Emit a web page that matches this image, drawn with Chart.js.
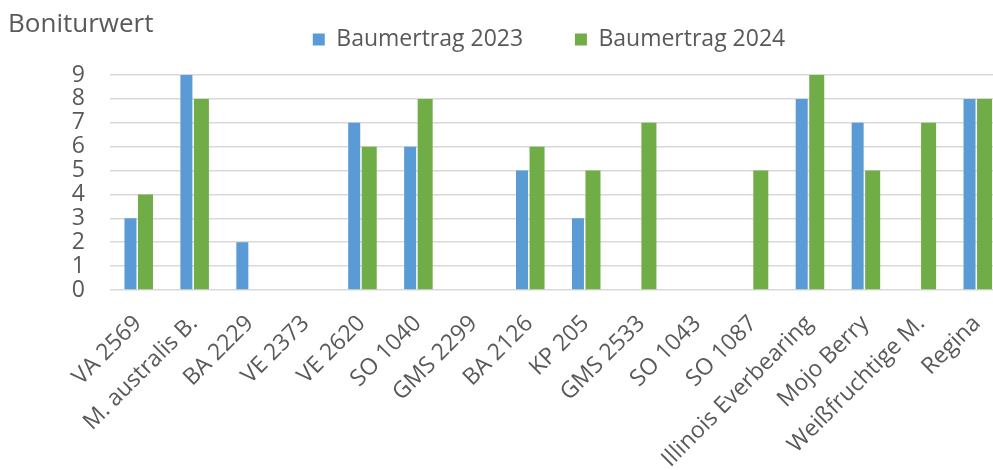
<!DOCTYPE html>
<html><head><meta charset="utf-8">
<script src="https://cdn.jsdelivr.net/npm/chart.js@4"></script>
<style>
html,body{margin:0;padding:0;overflow:hidden;background:#fff;width:993px;height:470px}
#wrap{width:1098px;height:470px;position:relative}
</style></head>
<body><div id="wrap"><canvas id="c" width="1098" height="470"></canvas></div>
<script>
const categories = ['VA 2569','M. australis B.','BA 2229','VE 2373','VE 2620','SO 1040','GMS 2299','BA 2126','KP 205','GMS 2533','SO 1043','SO 1087','Illinois Everbearing','Mojo Berry','Weißfruchtige M.','Regina'];
const yield2023 = [3, 9, 2, null, 7, 6, null, 5, 3, null, null, null, 8, 7, null, 8];
const yield2024 = [4, 8, null, null, 6, 8, null, 6, 5, 7, null, 5, 9, 5, 7, 8];
const seriesNames = ['Baumertrag 2023', 'Baumertrag 2024'];
const yTickMin = 0, yTickMax = 9, yTickStep = 1;
const axisTitle = 'Boniturwert';

const FONT = '"Open Sans", sans-serif';
const TXT = '#595959';

const titlePlugin = {
  id: 'axisTitleText',
  afterDraw(chart) {
    const ctx = chart.ctx;
    ctx.save();
    ctx.font = '26px ' + FONT;
    ctx.fillStyle = TXT;
    ctx.textBaseline = 'alphabetic';
    ctx.textAlign = 'left';
    ctx.fillText(axisTitle, 8, 32);
    ctx.restore();
  }
};

new Chart(document.getElementById('c'), {
  type: 'bar',
  data: {
    labels: categories,
    datasets: [
      { label: seriesNames[0], data: yield2023, backgroundColor: '#5B9BD5', barPercentage: 0.8, categoryPercentage: 0.537 },
      { label: seriesNames[1], data: yield2024, backgroundColor: '#70AD47', barPercentage: 1.0, categoryPercentage: 0.537 }
    ]
  },
  options: {
    responsive: false,
    animation: false,
    devicePixelRatio: 1,
    layout: { padding: { left: 0, right: 0, top: 18, bottom: 0 } },
    plugins: {
      tooltip: { enabled: false },
      title: { display: false },
      legend: {
        position: 'top',
        align: 'center',
        labels: {
          boxWidth: 12, boxHeight: 12, padding: 10,
          color: TXT,
          font: { family: FONT, size: 23 },
          generateLabels(chart) {
            const items = Chart.defaults.plugins.legend.labels.generateLabels(chart);
            items.forEach(it => { it.lineWidth = 0; });
            if (items[0]) items[0].text = items[0].text + '       ';
            return items;
          }
        }
      }
    },
    scales: {
      x: {
        grid: { display: false },
        border: { display: false },
        ticks: {
          autoSkip: false, minRotation: 45, maxRotation: 45,
          color: TXT, font: { family: FONT, size: 23 }, padding: 12
        },
        afterFit(scale) { scale.height = 180; }
      },
      xTop: {
        type: 'category', position: 'top', labels: categories,
        grid: { display: false }, border: { display: false },
        ticks: { display: false },
        afterFit(scale) { scale.height = 14; }
      },
      y: {
        min: yTickMin, max: yTickMax,
        border: { display: false },
        grid: { color: '#d9d9d9', lineWidth: 1.5, drawTicks: false },
        ticks: {
          stepSize: yTickStep, padding: 25, autoSkip: false,
          color: TXT, font: { family: FONT, size: 23 }
        },
        afterFit(scale) { scale.width = 110; }
      },
      yRight: {
        type: 'linear', position: 'right',
        grid: { display: false }, border: { display: false },
        ticks: { display: false },
        afterFit(scale) { scale.width = 93; }
      }
    }
  },
  plugins: [titlePlugin]
});
</script>
</body></html>
